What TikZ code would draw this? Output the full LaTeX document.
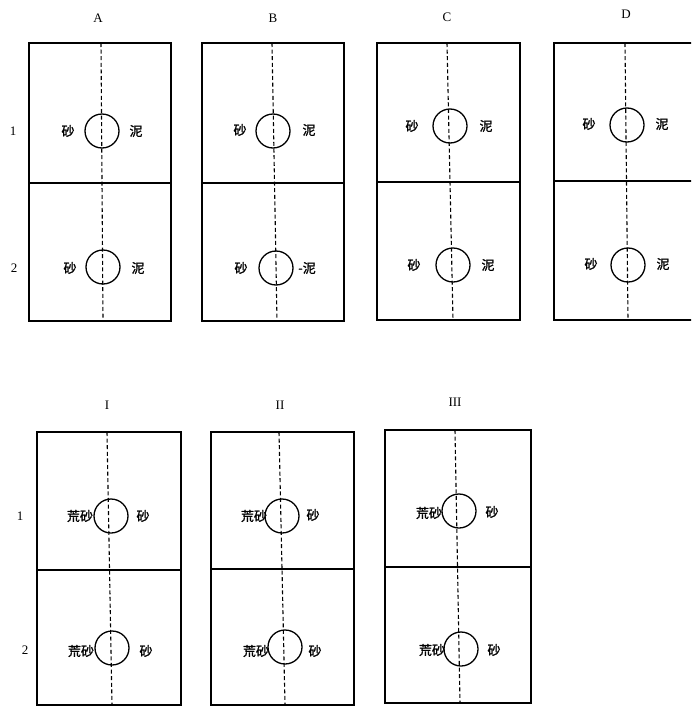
\documentclass[tikz,border=0pt]{standalone}
\usepackage{fontspec}
\newfontfamily\cjk[FakeBold=1.2]{Noto Sans CJK SC}
\setmainfont{Liberation Serif}
\begin{document}
\begin{tikzpicture}[x=1pt,y=-1pt,
  box/.style={draw, line width=1.2pt},
  div/.style={line width=1.1pt, dash pattern=on 4pt off 2.6pt},
  ring/.style={circle, draw, line width=1.3pt, minimum size=34pt, inner sep=0pt},
  lab/.style={font=\cjk\fontsize{13}{13}\selectfont, inner sep=0pt},
  ttl/.style={font=\fontsize{13}{13}\selectfont, inner sep=0pt},
  row/.style={font=\fontsize{13}{13}\selectfont, inner sep=0pt}]
\useasboundingbox (0,0) rectangle (691,707);
\clip (0,0) rectangle (691,707);
% ---------- top row ----------
\node[ttl] (tA) at (98,18) {A};
\node[ttl] (tB) at (273,18) {B};
\node[ttl] (tC) at (447,17) {C};
\node[ttl] (tD) at (626,14) {D};
\node[row] (r1) at (13,131) {1};
\node[row] (r2) at (14,268) {2};
% box A
\draw[box] (29,43) rectangle (171,321);
\draw[box] (29,183) -- (171,183);
\coordinate (aT) at (101,43); \coordinate (aB) at (103,321);
\draw[div] (aT) -- (aB);
\node[ring] (a1) at (102,131) {};
\node[ring] (a2) at (103,267) {};
\node[lab] (a1l) at (68,131) {砂};
\node[lab] (a1r) at (136,131) {泥};
\node[lab] (a2l) at (70,268) {砂};
\node[lab] (a2r) at (138,268) {泥};
% box B
\draw[box] (202,43) rectangle (344,321);
\draw[box] (202,183) -- (344,183);
\coordinate (bT) at (272,43); \coordinate (bB) at (277,321);
\draw[div] (bT) -- (bB);
\node[ring] (b1) at (273,131) {};
\node[ring] (b2) at (276,268) {};
\node[lab] (b1l) at (240,130) {砂};
\node[lab] (b1r) at (309,130) {泥};
\node[lab] (b2l) at (241,268) {砂};
\node[lab] (b2r) at (307,268) {-泥};
% box C
\draw[box] (377,43) rectangle (520,320);
\draw[box] (377,182) -- (520,182);
\coordinate (cT) at (447,43); \coordinate (cB) at (453,320);
\draw[div] (cT) -- (cB);
\node[ring] (c1) at (450,126) {};
\node[ring] (c2) at (453,265) {};
\node[lab] (c1l) at (412,126) {砂};
\node[lab] (c1r) at (486,126) {泥};
\node[lab] (c2l) at (414,265) {砂};
\node[lab] (c2r) at (488,265) {泥};
% box D
\draw[box] (554,43) rectangle (700,320);
\draw[box] (554,181) -- (700,181);
\coordinate (dT) at (625,43); \coordinate (dB) at (628,320);
\draw[div] (dT) -- (dB);
\node[ring] (d1) at (627,125) {};
\node[ring] (d2) at (628,265) {};
\node[lab] (d1l) at (589,124) {砂};
\node[lab] (d1r) at (662,124) {泥};
\node[lab] (d2l) at (591,264) {砂};
\node[lab] (d2r) at (663,264) {泥};
% ---------- bottom row ----------
\node[ttl] (tI) at (107,405) {I};
\node[ttl] (tII) at (280,405) {II};
\node[ttl] (tIII) at (455,402) {III};
\node[row] (s1) at (20,516) {1};
\node[row] (s2) at (25,650) {2};
% box I
\draw[box] (37,432) rectangle (181,705);
\draw[box] (37,570) -- (181,570);
\coordinate (iT) at (107,432); \coordinate (iB) at (112,705);
\draw[div] (iT) -- (iB);
\node[ring] (i1) at (111,516) {};
\node[ring] (i2) at (112,648) {};
\node[lab] (i1l) at (80,516) {荒砂};
\node[lab] (i1r) at (143,516) {砂};
\node[lab] (i2l) at (81,651) {荒砂};
\node[lab] (i2r) at (146,651) {砂};
% box II
\draw[box] (211,432) rectangle (354,705);
\draw[box] (211,569) -- (354,569);
\coordinate (iiT) at (279,432); \coordinate (iiB) at (285,705);
\draw[div] (iiT) -- (iiB);
\node[ring] (ii1) at (282,516) {};
\node[ring] (ii2) at (285,647) {};
\node[lab] (ii1l) at (254,516) {荒砂};
\node[lab] (ii1r) at (313,515) {砂};
\node[lab] (ii2l) at (256,651) {荒砂};
\node[lab] (ii2r) at (315,651) {砂};
% box III
\draw[box] (385,430) rectangle (531,703);
\draw[box] (385,567) -- (531,567);
\coordinate (iiiT) at (455,430); \coordinate (iiiB) at (460,703);
\draw[div] (iiiT) -- (iiiB);
\node[ring] (iii1) at (459,511) {};
\node[ring] (iii2) at (461,649) {};
\node[lab] (iii1l) at (429,513) {荒砂};
\node[lab] (iii1r) at (492,512) {砂};
\node[lab] (iii2l) at (432,650) {荒砂};
\node[lab] (iii2r) at (494,650) {砂};
\end{tikzpicture}
\end{document}
